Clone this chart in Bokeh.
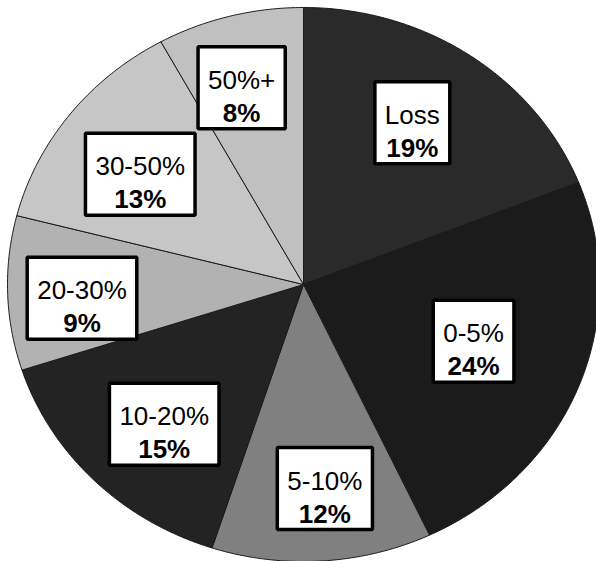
import math
from bokeh.plotting import figure
from bokeh.models import Range1d, ColumnDataSource
from bokeh.core.properties import value
from bokeh.embed import file_html
from bokeh.resources import INLINE

# ---- data ----
categories = ["Loss", "0-5%", "5-10%", "10-20%", "20-30%", "30-50%", "50%+"]
shares = [19, 24, 12, 15, 9, 13, 8]
pct_labels = ["19%", "24%", "12%", "15%", "9%", "13%", "8%"]

# ---- style / layout ----
colors = ["#2a2a2a", "#1b1b1b", "#808080", "#232323", "#b2b2b2", "#c6c6c6", "#c0c0c0"]
label_r = [0.69, 0.61, 0.74, 0.69, 0.75, 0.68, 0.74]
label_da = -2.0  # degrees
W, H = 596, 561
cx, cy, rx, ry = 303, 284, 296, 277
FONT = "Liberation Sans"
FS = 26

NORMAL_W = {"L": .556, "o": .556, "s": .5, "-": .333, "+": .584, "%": .889}
BOLD_W = {"%": .889}
def text_w(s, table):
    return sum(table.get(c, .556) for c in s) * FS

p = figure(width=W, height=H, output_backend="svg", toolbar_location=None,
           x_range=Range1d(0, W), y_range=Range1d(H, 0), min_border=0)
p.axis.visible = False
p.grid.visible = False
p.outline_line_color = None
p.background_fill_color = "white"
p.border_fill_color = "white"

total = float(sum(shares))
xs, ys = [], []
lx, ly, bw = [], [], []
start = 0.0
for i, s in enumerate(shares):
    a0 = start / total * 2 * math.pi
    a1 = (start + s) / total * 2 * math.pi
    n = max(4, int((a1 - a0) / math.radians(0.5)))
    px, py = [cx], [cy]
    for k in range(n + 1):
        t = a0 + (a1 - a0) * k / n
        px.append(cx + rx * math.sin(t))
        py.append(cy - ry * math.cos(t))
    xs.append(px)
    ys.append(py)
    am = (a0 + a1) / 2 + math.radians(label_da)
    lx.append(cx + label_r[i] * rx * math.sin(am))
    ly.append(cy - label_r[i] * ry * math.cos(am))
    bw.append(max(text_w(categories[i], NORMAL_W), text_w(pct_labels[i], BOLD_W)) + 20)
    start += s

p.patches(xs=xs, ys=ys, fill_color=colors, line_color="#1a1a1a", line_width=1)

src = ColumnDataSource(dict(x=lx, y=ly, w=bw, cat=categories, pct=pct_labels,
                            y1=[v - 8 for v in ly], y2=[v + 25 for v in ly]))
p.rect(x="x", y="y", width="w", height=82, width_units="screen", height_units="screen",
       fill_color="white", line_color="black", line_width=3.5, source=src)
p.text(x="x", y="y1", text="cat", text_align="center", text_baseline="alphabetic",
       text_font=value(FONT), text_font_size=f"{FS}px", text_color="black", source=src)
p.text(x="x", y="y2", text="pct", text_align="center", text_baseline="alphabetic",
       text_font=value(FONT), text_font_size=f"{FS}px", text_font_style="bold",
       text_color="black", source=src)

open("out.html", "w").write(file_html(p, INLINE))
